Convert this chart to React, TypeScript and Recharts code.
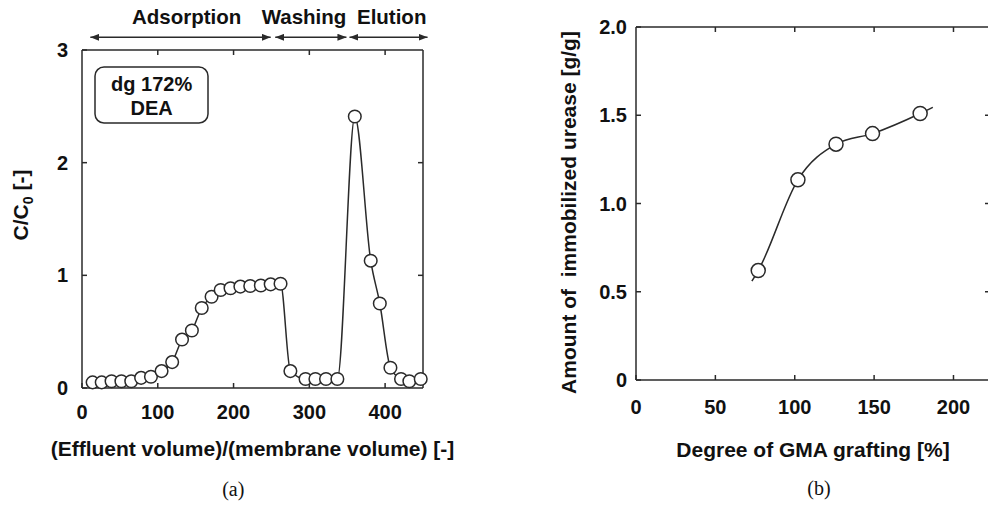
import React from "react";
import { LineChart, ComposedChart, Line, Scatter, XAxis, YAxis, ReferenceLine } from "recharts";

// (a) breakthrough / elution curve
const volumeX = [14, 26, 39, 52, 65, 78, 91, 105, 119, 132, 145, 158, 171, 183, 196, 209, 222, 236, 249, 262, 275, 295, 308, 322, 337, 360, 381, 393, 407, 421, 432, 447];
const ratioY = [0.05, 0.05, 0.06, 0.06, 0.06, 0.09, 0.1, 0.15, 0.23, 0.43, 0.51, 0.71, 0.81, 0.87, 0.885, 0.9, 0.905, 0.91, 0.92, 0.925, 0.15, 0.08, 0.08, 0.08, 0.08, 2.41, 1.13, 0.75, 0.18, 0.08, 0.06, 0.08];
const volumeTicks = [0, 100, 200, 300, 400];
const ratioTicks = [0, 1, 2, 3];
const volumeMax = 450;
const ratioMax = 3;

const phaseNames = ["Adsorption", "Washing", "Elution"];
const phaseFrom = [11, 255, 353];
const phaseTo = [249, 349, 456];
const phaseArrowY = 3.113;

// (b) immobilized urease vs grafting degree
const graftX = [77, 102, 126, 149, 179];
const ureaseY = [0.62, 1.134, 1.336, 1.396, 1.51];
const fitX = [73, 77, 102, 126, 149, 179, 187];
const fitY = [0.56, 0.62, 1.134, 1.336, 1.396, 1.51, 1.545];
const graftTicks = [0, 50, 100, 150, 200];
const ureaseTicks = [0, 0.5, 1, 1.5, 2];
const graftMax = 223;
const ureaseMax = 2;

const SANS = "'Liberation Sans', Arial, sans-serif";
const INK = "#111";
const LINE = "#2a2a2a";
const TICK_PX = 5;

const tickStyle = { fontSize: 20, fontWeight: "bold", fill: INK, fontFamily: SANS };
const axisStroke = { stroke: LINE, strokeWidth: 1.5 };

const curveA = volumeX.map((x, i) => ({ x, y: ratioY[i] }));
const pointsB = graftX.map((x, i) => ({ x, y: ureaseY[i] }));
const curveB = fitX.map((x, i) => ({ x, y: fitY[i] }));

// top and right edges of the frame, with inward tick marks
function frameLines(xMax: number, yMax: number, xTicks: number[], yTicks: number[], pxPerX: number, pxPerY: number) {
  const dx = TICK_PX / pxPerX;
  const dy = TICK_PX / pxPerY;
  const common = { ifOverflow: "visible" as const, stroke: LINE, strokeWidth: 1.5 };
  return [
    <ReferenceLine key="top" segment={[{ x: 0, y: yMax }, { x: xMax, y: yMax }]} {...common} />,
    <ReferenceLine key="right" segment={[{ x: xMax, y: 0 }, { x: xMax, y: yMax }]} {...common} />,
    ...xTicks.filter((t) => t > 0).map((t) => (
      <ReferenceLine key={`tx${t}`} segment={[{ x: t, y: yMax }, { x: t, y: yMax - dy }]} {...common} />
    )),
    ...yTicks.filter((t) => t > 0 && t < yMax).map((t) => (
      <ReferenceLine key={`ty${t}`} segment={[{ x: xMax, y: t }, { x: xMax - dx, y: t }]} {...common} />
    )),
  ];
}

function PanelA() {
  return (
    <LineChart width={470} height={470} data={curveA} margin={{ top: 50, right: 47, bottom: 52, left: 0 }}>
      <XAxis
        type="number"
        dataKey="x"
        domain={[0, volumeMax]}
        ticks={volumeTicks}
        height={30}
        tickSize={-TICK_PX}
        tickMargin={22}
        tick={tickStyle}
        axisLine={axisStroke}
        tickLine={axisStroke}
        label={{
          value: "(Effluent volume)/(membrane volume) [-]",
          position: "bottom",
          offset: 23,
          fontSize: 21,
          fontWeight: "bold",
          fill: INK,
          fontFamily: SANS,
        }}
      />
      <YAxis
        type="number"
        domain={[0, ratioMax]}
        ticks={ratioTicks}
        width={82}
        tickSize={-TICK_PX}
        tickMargin={19}
        tick={tickStyle}
        axisLine={axisStroke}
        tickLine={axisStroke}
        label={() => (
          <text
            transform="translate(28,205) rotate(-90)"
            textAnchor="middle"
            fontSize={21}
            fontWeight="bold"
            fill={INK}
            fontFamily={SANS}
          >
            C/C
            <tspan fontSize={14} dy={5}>0</tspan>
            <tspan dy={-5}>{"  [-]"}</tspan>
          </text>
        )}
      />
      {frameLines(volumeMax, ratioMax, volumeTicks, ratioTicks, 341 / volumeMax, 338 / ratioMax)}
      {phaseNames.map((name, i) => (
        <ReferenceLine
          key={name}
          segment={[
            { x: phaseFrom[i], y: phaseArrowY },
            { x: phaseTo[i], y: phaseArrowY },
          ]}
          ifOverflow="visible"
          stroke={LINE}
          strokeWidth={1.5}
          markerStart="url(#arrowHead)"
          markerEnd="url(#arrowHead)"
        />
      ))}
      <Line
        type="monotone"
        dataKey="y"
        stroke={LINE}
        strokeWidth={1.5}
        dot={{ r: 6.3, fill: "#fff", stroke: LINE, strokeWidth: 1.5 }}
        isAnimationActive={false}
      />
    </LineChart>
  );
}

function PanelB() {
  return (
    <ComposedChart width={502} height={470} margin={{ top: 27, right: 2, bottom: 60, left: 0 }}>
      <XAxis
        type="number"
        dataKey="x"
        domain={[0, graftMax]}
        ticks={graftTicks}
        height={30}
        tickSize={-TICK_PX}
        tickMargin={25}
        tick={tickStyle}
        axisLine={axisStroke}
        tickLine={axisStroke}
        label={{
          value: "Degree of GMA grafting [%]",
          position: "bottom",
          offset: 32,
          fontSize: 21,
          fontWeight: "bold",
          fill: INK,
          fontFamily: SANS,
        }}
      />
      <YAxis
        type="number"
        domain={[0, ureaseMax]}
        ticks={ureaseTicks}
        width={146}
        tickSize={-TICK_PX}
        tickMargin={14}
        tick={tickStyle}
        tickFormatter={(v: number) => (v === 0 ? "0" : v.toFixed(1))}
        axisLine={axisStroke}
        tickLine={axisStroke}
        label={() => (
          <text
            transform="translate(86,212.5) rotate(-90)"
            textAnchor="middle"
            fontSize={21}
            fontWeight="bold"
            fill={INK}
            fontFamily={SANS}
            style={{ whiteSpace: "pre" }}
          >
            Amount of  immobilized urease [g/g]
          </text>
        )}
      />
      {frameLines(graftMax, ureaseMax, graftTicks, ureaseTicks, 354 / graftMax, 353 / ureaseMax)}
      <Line
        data={curveB}
        type="monotone"
        dataKey="y"
        stroke={LINE}
        strokeWidth={1.5}
        dot={false}
        isAnimationActive={false}
      />
      <Scatter
        data={pointsB}
        dataKey="y"
        isAnimationActive={false}
        shape={(p: any) => <circle cx={p.cx} cy={p.cy} r={7} fill="#fff" stroke={LINE} strokeWidth={1.5} />}
      />
    </ComposedChart>
  );
}

export default function App() {
  return (
    <div style={{ position: "absolute", left: 0, top: 0, width: 988, height: 506, overflow: "hidden", background: "#fff" }}>
      <svg width={0} height={0} style={{ position: "absolute" }}>
        <defs>
          <marker
            id="arrowHead"
            viewBox="0 0 9 7"
            markerWidth={9}
            markerHeight={7}
            refX={9}
            refY={3.5}
            orient="auto-start-reverse"
            markerUnits="userSpaceOnUse"
          >
            <path d="M0,0 L9,3.5 L0,7 z" fill={LINE} />
          </marker>
        </defs>
      </svg>
      <div style={{ position: "absolute", left: 0, top: 0 }}>
        <PanelA />
      </div>
      <div style={{ position: "absolute", left: 490, top: 0 }}>
        <PanelB />
      </div>
      <svg width={988} height={506} style={{ position: "absolute", left: 0, top: 0, pointerEvents: "none" }}>
        <g fontFamily={SANS} fontWeight="bold" fill={INK} textAnchor="middle" fontSize={20.5}>
          <text x={186.7} y={24}>{phaseNames[0]}</text>
          <text x={304} y={24}>{phaseNames[1]}</text>
          <text x={391.7} y={24}>{phaseNames[2]}</text>
        </g>
        <rect x={95} y={67} width={113} height={56} rx={9} fill="#fff" stroke={LINE} strokeWidth={1.5} />
        <g fontFamily={SANS} fontWeight="bold" fill={INK} textAnchor="middle" fontSize={20}>
          <text x={151.7} y={90.7}>dg 172%</text>
          <text x={151.7} y={115}>DEA</text>
        </g>
        <g fontFamily="'Liberation Serif', 'Times New Roman', serif" fill={INK} textAnchor="middle" fontSize={20}>
          <text x={233.3} y={496}>(a)</text>
          <text x={819} y={495}>(b)</text>
        </g>
      </svg>
    </div>
  );
}
